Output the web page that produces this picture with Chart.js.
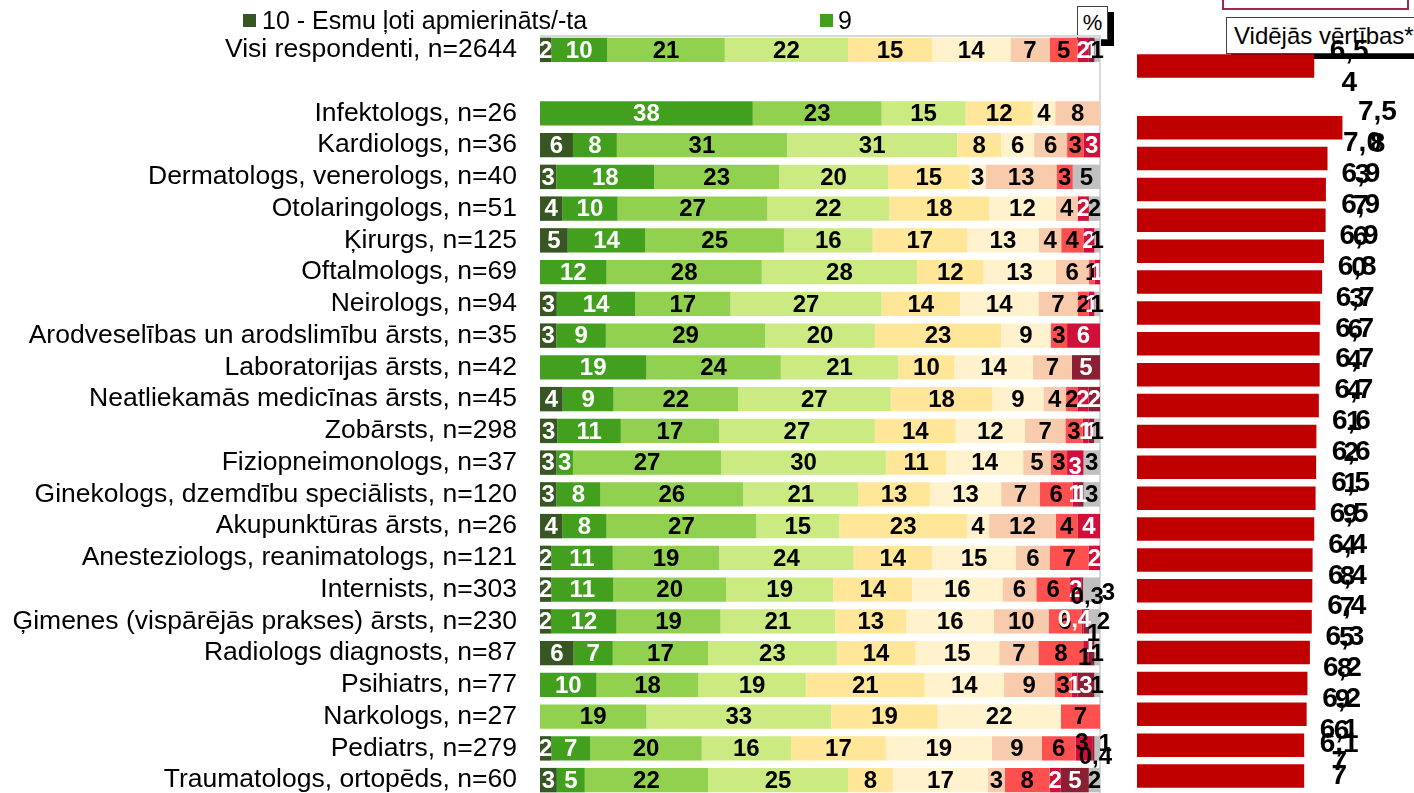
<!DOCTYPE html>
<html>
<head>
<meta charset="utf-8">
<script src="https://cdn.jsdelivr.net/npm/chart.js@4.4.1/dist/chart.umd.min.js"></script>
<style>
html,body{margin:0;padding:0;width:1414px;height:793px;overflow:hidden;background:#fff;font-family:"Liberation Sans",Arial,sans-serif;}
#wrapL{position:absolute;left:0;top:0;width:1120px;height:800px;z-index:2;}
#wrapR{position:absolute;left:1120px;top:0;width:294px;height:793px;z-index:2;}
.box{position:absolute;background:#fff;z-index:1;}
.leg{position:absolute;font-size:25px;color:#000;line-height:25px;white-space:nowrap;z-index:3;}
.sq{position:absolute;width:13px;height:13px;z-index:3;}
</style>
</head>
<body>
<div class="sq" style="left:243px;top:14px;background:#375623;"></div>
<div class="leg" style="left:262px;top:8px;">10 - Esmu ļoti apmierināts/-ta</div>
<div class="sq" style="left:820px;top:14px;background:#43a01e;"></div>
<div class="leg" style="left:838px;top:8px;">9</div>

<div class="box" style="left:1222px;top:-20px;width:183px;height:26px;border:2px solid #a3284f;"></div>
<div class="box" style="left:1077px;top:6px;width:29px;height:32px;border:1.5px solid #404040;box-shadow:6px 6px 0 #000;font-size:22px;line-height:32px;text-align:center;">%</div>
<div class="box" style="left:1226px;top:17px;width:200px;height:35px;border:1px solid #404040;box-shadow:5px 5px 0 #000;font-size:24px;line-height:35px;padding-left:7px;white-space:nowrap;">Vidējās vērtības*</div>

<div id="wrapL"><canvas id="left" width="1120" height="800"></canvas></div>
<div id="wrapR"><canvas id="right" width="294" height="793"></canvas></div>

<script>
// ---------- DATA ----------
const categories = [
  'Visi respondenti, n=2644', '',
  'Infektologs, n=26', 'Kardiologs, n=36', 'Dermatologs, venerologs, n=40',
  'Otolaringologs, n=51', 'Ķirurgs, n=125', 'Oftalmologs, n=69', 'Neirologs, n=94',
  'Arodveselības un arodslimību ārsts, n=35', 'Laboratorijas ārsts, n=42',
  'Neatliekamās medicīnas ārsts, n=45', 'Zobārsts, n=298', 'Fiziopneimonologs, n=37',
  'Ginekologs, dzemdību speciālists, n=120', 'Akupunktūras ārsts, n=26',
  'Anesteziologs, reanimatologs, n=121', 'Internists, n=303',
  'Ģimenes (vispārējās prakses) ārsts, n=230', 'Radiologs diagnosts, n=87',
  'Psihiatrs, n=77', 'Narkologs, n=27', 'Pediatrs, n=279', 'Traumatologs, ortopēds, n=60'
];
const seriesNames = ['10 - Esmu ļoti apmierināts/-ta','9','8','7','6','5','4','3','2','1','Grūti pateikt'];

const v10 = [2,null,null,6,3,4,5,null,3,3,null,4,3,3,3,4,2,2,2,6,null,null,2,3];
const v9  = [10,null,38,8,18,10,14,12,14,9,19,9,11,3,8,8,11,11,12,7,10,null,7,5];
const v8  = [21,null,23,31,23,27,25,28,17,29,24,22,17,27,26,27,19,20,19,17,18,19,20,22];
const v7  = [22,null,15,31,20,22,16,28,27,20,21,27,27,30,21,15,24,19,21,23,19,33,16,25];
const v6  = [15,null,12,8,15,18,17,12,14,23,10,18,14,11,13,23,14,14,13,14,21,19,17,8];
const v5  = [14,null,4,6,3,12,13,13,14,9,14,9,12,14,13,4,15,16,16,15,14,22,19,17];
const v4  = [7,null,8,6,13,4,4,6,7,null,7,4,7,5,7,12,6,6,10,7,9,null,9,3];
const v3  = [5,null,null,3,3,null,4,1,2,3,null,2,3,3,6,4,7,6,6,8,3,7,6,8];
const v2  = [2,null,null,3,null,2,2,1,1,6,null,2,1,3,1,4,2,2,0.4,1,1,null,3,2];
const v1  = [1,null,null,null,null,null,null,null,null,null,5,2,1,null,1,null,null,0.3,1,1,3,null,0.4,5];
const vG  = [1,null,null,null,5,2,1,null,1,null,null,null,1,3,3,null,null,3,2,1,1,null,1,2];

const meanValues = [6.54,null,7.58,7.03,6.97,6.96,6.90,6.83,6.76,6.74,6.74,6.71,6.62,6.61,6.59,6.54,6.48,6.47,6.45,6.38,6.29,6.26,6.17,6.17];

// ---------- STYLE ----------
const FONT = '"Liberation Sans", Arial, sans-serif';
const seriesRaw = [v10,v9,v8,v7,v6,v5,v4,v3,v2,v1,vG];
const seriesColors = ['#375623','#43a01e','#92d050','#cbea82','#ffe699','#fff2cc','#f8cbad','#ff5050','#d0103a','#8b2035','#c0c0c0'];
const labelColors = ['#fff','#fff','#000','#000','#000','#000','#000','#000','#fff','#fff','#000'];
// manual label displacements (row-series): [dx, dy, color]
const labelOffsets = {
  '13-8':[0,4,null],
  '17-9':[5,7,'#000'], '17-10':[17,3,null],
  '18-8':[-8,-2,null], '18-9':[7,12,'#000'], '18-10':[9,0,null],
  '19-8':[4,-9,null], '19-9':[-7,4,'#000'],
  '22-8':[-2,-6,'#000'], '22-9':[2,8,'#000'], '22-10':[8,-5,null]
};
const fmt = v => String(v).replace('.', ',');

Chart.defaults.font.family = FONT;
Chart.defaults.animation = false;

const rowSums = categories.map((_, r) => seriesRaw.reduce((s, arr) => s + (arr[r] || 0), 0));
const datasets = seriesNames.map((name, i) => ({
  label: name,
  data: seriesRaw[i].map((v, r) => (v == null || rowSums[r] === 0) ? null : v / rowSums[r] * 100),
  backgroundColor: seriesColors[i],
  borderWidth: 0,
  barPercentage: 0.77,
  categoryPercentage: 1
}));

const segLabels = {
  id: 'segLabels',
  afterDatasetsDraw(chart) {
    const ctx = chart.ctx;
    ctx.save();
    ctx.font = 'bold 24px ' + FONT;
    ctx.textAlign = 'center';
    ctx.textBaseline = 'middle';
    chart.data.datasets.forEach((ds, di) => {
      const meta = chart.getDatasetMeta(di);
      meta.data.forEach((el, ri) => {
        const raw = seriesRaw[di][ri];
        if (raw == null || raw === 0) return;
        const off = labelOffsets[ri + '-' + di] || [0, 0, null];
        ctx.fillStyle = off[2] || labelColors[di];
        ctx.fillText(fmt(raw), (el.x + el.base) / 2 + off[0], el.y + 1 + off[1]);
      });
    });
    ctx.restore();
  }
};
const plotBorder = {
  id: 'plotBorder',
  beforeDatasetsDraw(chart) {
    const a = chart.chartArea, ctx = chart.ctx;
    ctx.save();
    ctx.strokeStyle = '#d9d9d9';
    ctx.lineWidth = 2;
    ctx.beginPath();
    ctx.moveTo(a.left, a.top + 2); ctx.lineTo(a.right, a.top + 2); ctx.lineTo(a.right, a.bottom);
    ctx.stroke();
    ctx.restore();
  }
};

new Chart(document.getElementById('left'), {
  type: 'bar',
  data: { labels: categories, datasets },
  options: {
    indexAxis: 'y',
    responsive: false,
    devicePixelRatio: 1,
    layout: { padding: { top: 34, bottom: 4, left: 0, right: 20 } },
    plugins: { legend: { display: false }, tooltip: { enabled: false } },
    scales: {
      x: { stacked: true, min: 0, max: 100, display: false },
      y: {
        stacked: true,
        grid: { display: false, drawTicks: false },
        border: { display: false },
        ticks: { color: '#000', font: { size: 26.5 }, padding: 23, autoSkip: false },
        afterFit(scale) { scale.width = 540; scale.paddingTop = 0; scale.paddingBottom = 0; }
      }
    }
  },
  plugins: [plotBorder, segLabels]
});

const meanLabels = {
  id: 'meanLabels',
  afterDatasetsDraw(chart) {
    const ctx = chart.ctx;
    const meta = chart.getDatasetMeta(0);
    ctx.save();
    ctx.font = 'bold 28px ' + FONT;
    ctx.fillStyle = '#000';
    ctx.textAlign = 'center';
    ctx.textBaseline = 'middle';
    meta.data.forEach((el, i) => {
      const v = meanValues[i];
      if (v == null) return;
      const s = v.toFixed(2).replace('.', ',');
      let y1 = el.y - 15, y2 = el.y + 17;
      const maxY = chart.height - 17;
      if (y2 > maxY) { const d = y2 - maxY; y1 -= d; y2 -= d; }
      const x = el.x + 35;
      ctx.fillText(s.slice(0, 3), x, y1);
      ctx.fillText(s.slice(3), x, y2);
    });
    ctx.restore();
  }
};

new Chart(document.getElementById('right'), {
  type: 'bar',
  data: {
    labels: categories,
    datasets: [{ label: 'Vidējās vērtības*', data: meanValues, backgroundColor: '#c00000', borderWidth: 0, barPercentage: 0.76, categoryPercentage: 1 }]
  },
  options: {
    indexAxis: 'y',
    responsive: false,
    devicePixelRatio: 1,
    layout: { padding: { top: 50.5, bottom: 1.5, left: 17, right: 6 } },
    plugins: { legend: { display: false }, tooltip: { enabled: false } },
    scales: {
      x: { min: 0, max: 10, display: false },
      y: { display: false }
    }
  },
  plugins: [meanLabels]
});
</script>
</body>
</html>
